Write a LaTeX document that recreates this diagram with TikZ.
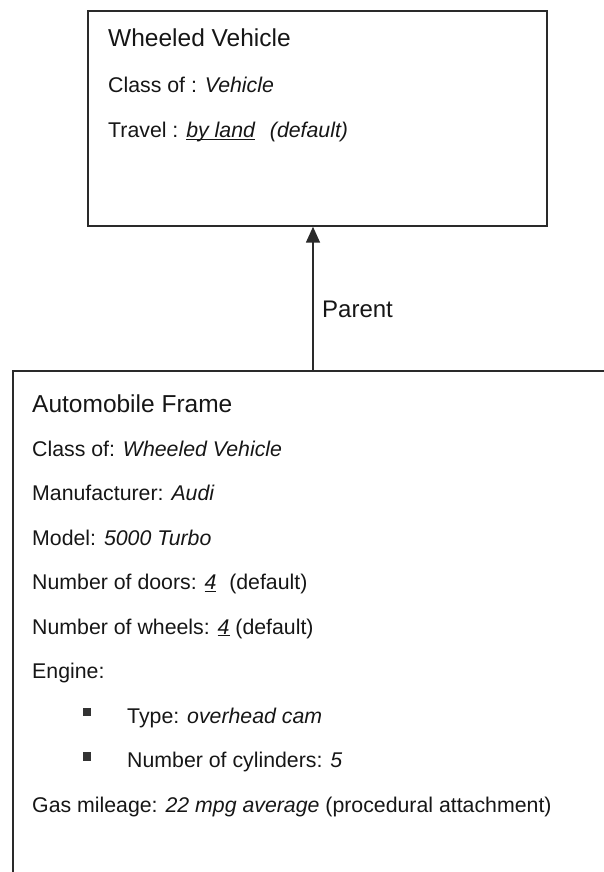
\documentclass[tikz,border=0pt]{standalone}
\usepackage{fontspec}
\setmainfont{Liberation Sans}
\usepackage{tikz}
\usetikzlibrary{
  arrows.meta,
  positioning
}
\definecolor{inkline}{HTML}{2A2A2A}
\definecolor{inktext}{HTML}{161616}
\definecolor{bulletgrey}{HTML}{333333}
\tikzset{
  framebox/.style={
    rectangle, draw=inkline, line width=1.7pt, fill=none,
    inner sep=0pt, anchor=north west
  },
  titletext/.style={
    anchor=base west, inner sep=0pt,
    font=\fontsize{24.5}{29}\selectfont, text=inktext
  },
  slottext/.style={
    anchor=base west, inner sep=0pt,
    font=\fontsize{21.3}{25}\selectfont, text=inktext
  },
  bulletsq/.style={
    rectangle, fill=bulletgrey, minimum size=8.5pt, inner sep=0pt
  },
  parentarrow/.style={
    -{Triangle[length=16pt,width=14pt]}, line width=1.5pt, color=inkline
  },
  annot/.style={
    anchor=base west, inner sep=0pt,
    font=\fontsize{24}{29}\selectfont, text=inktext
  },
}
\newcommand{\slotul}[1]{\underline{\smash{#1}}}

\begin{document}
\begin{tikzpicture}[x=1pt, y=-1pt]

  \useasboundingbox (0,0) rectangle (604,872);
  \clip (0,0) rectangle (604,872);

  %% Parent frame (top)
  \node[framebox, minimum width=459pt, minimum height=215pt] (wv-frame) at (87,10) {};
  \node[titletext] (wv-title) at (108,47) {Wheeled Vehicle};
  \node[slottext] (wv-class) at ([yshift=-46pt]wv-title.base west) {Class of : \textit{Vehicle}};
  \node[slottext] (wv-travel) at ([yshift=-45pt]wv-class.base west)
    {Travel : \textit{\slotul{by land}}\hspace{0.7em}\textit{(default)}};

  %% Child frame (bottom, runs off the page)
  \node[framebox, minimum width=660pt, minimum height=560pt] (af-frame) at (12,370) {};
  \node[titletext] (af-title) at (32,412) {Automobile Frame};
  \node[slottext] (af-class) at ([yshift=-44pt]af-title.base west) {Class of: \textit{Wheeled Vehicle}};
  \node[slottext] (af-maker) at ([yshift=-44.5pt]af-class.base west) {Manufacturer: \textit{Audi}};
  \node[slottext] (af-model) at ([yshift=-44.5pt]af-maker.base west) {Model: \textit{5000 Turbo}};
  \node[slottext] (af-doors) at ([yshift=-44.5pt]af-model.base west)
    {Number of doors: \slotul{\textit{4}}\hspace{0.6em}(default)};
  \node[slottext] (af-wheels) at ([yshift=-44.5pt]af-doors.base west)
    {Number of wheels: \slotul{\textit{4}} (default)};
  \node[slottext] (af-engine) at ([yshift=-44.5pt]af-wheels.base west) {Engine:};
  \node[slottext] (af-type) at ([xshift=95pt, yshift=-44.5pt]af-engine.base west) {Type: \textit{overhead cam}};
  \node[slottext] (af-cyl) at ([yshift=-44.5pt]af-type.base west) {Number of cylinders: \textit{5}};
  \node[slottext] (af-gas) at ([xshift=-95pt, yshift=-44.5pt]af-cyl.base west)
    {Gas mileage: \textit{22 mpg average} (procedural attachment)};

  \node[bulletsq] (bul-type) at ([xshift=-40pt, yshift=11pt]af-type.base west) {};
  \node[bulletsq] (bul-cyl) at ([xshift=-40pt, yshift=11pt]af-cyl.base west) {};

  %% Parent link
  \coordinate (link) at (313,370);
  \draw[parentarrow] (link) -- (link |- wv-frame.south);
  \node[annot] (parent-lbl) at ([xshift=9pt, yshift=53pt]link) {Parent};

\end{tikzpicture}
\end{document}
